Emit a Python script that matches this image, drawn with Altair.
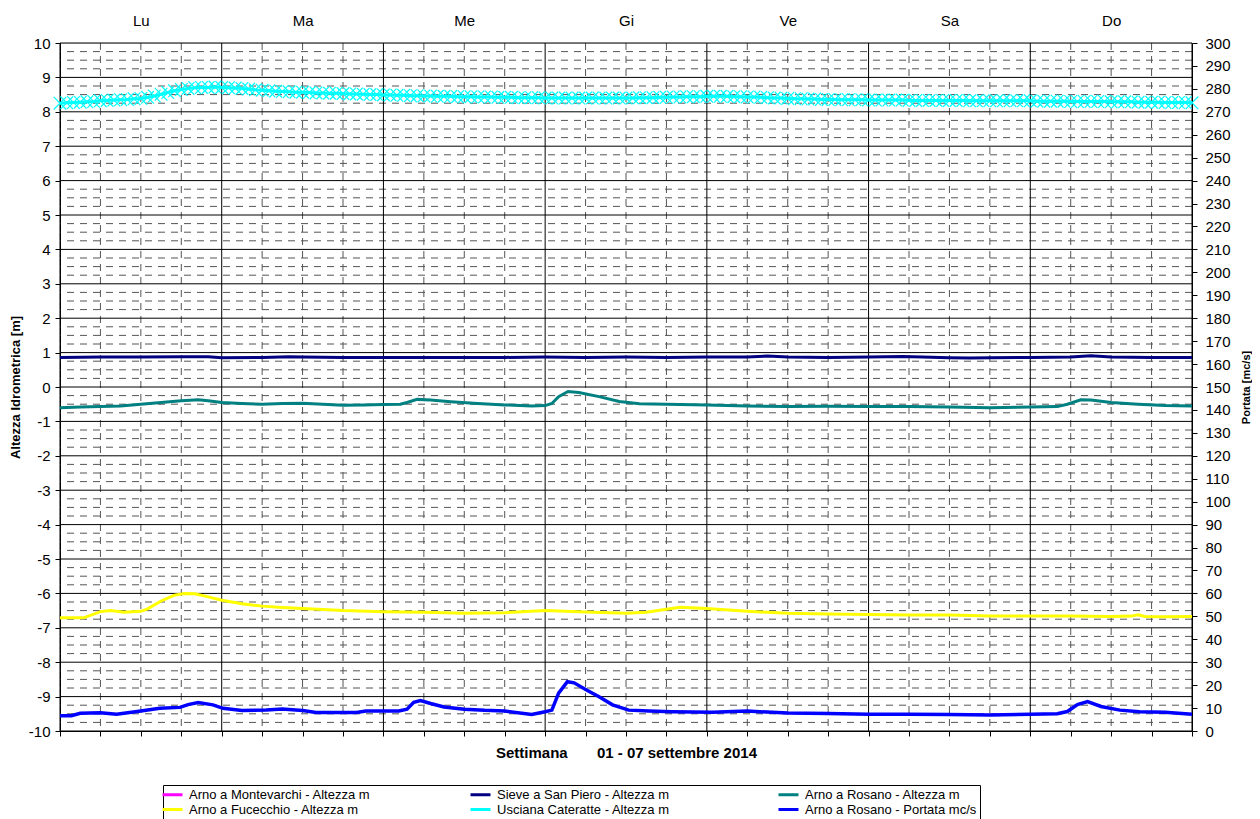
import altair as alt
import pandas as pd

# ---------------- data ----------------
DAYS = ["Lu", "Ma", "Me", "Gi", "Ve", "Sa", "Do"]

SERIES = [
    "Arno a Montevarchi - Altezza m",
    "Arno a Fucecchio - Altezza m",
    "Sieve a San Piero - Altezza m",
    "Usciana Cateratte - Altezza m",
    "Arno a Rosano - Altezza m",
    "Arno a Rosano - Portata mc/s",
]
COLORS = ["#FF00FF", "#FFFF00", "#000080", "#00FFFF", "#008080", "#0000FF"]

# Sieve a San Piero (hours from Mon 00:00, metres)
sieve_h = [0, 6, 12, 18, 22, 24, 30, 34, 36, 42, 48, 54, 60, 66, 72, 78, 84, 90, 96,
           102, 105, 108, 114, 120, 125, 128, 132, 135, 138, 144, 150, 153, 156, 162, 168]
sieve_v = [0.86, 0.87, 0.87, 0.88, 0.88, 0.85, 0.86, 0.88, 0.87, 0.86, 0.86, 0.86, 0.86,
           0.86, 0.87, 0.86, 0.87, 0.86, 0.87, 0.87, 0.90, 0.87, 0.86, 0.87, 0.89, 0.87,
           0.85, 0.84, 0.85, 0.86, 0.87, 0.91, 0.87, 0.86, 0.86]

# Arno a Rosano - altezza
rosano_h = [0, 3, 6, 9, 12, 15, 18, 20.5, 22, 24, 27, 30, 33, 36, 39, 42, 45, 48, 50.5,
            51.5, 53, 55, 58, 62, 66, 70, 72, 73, 74, 75.4, 77, 80, 83, 86, 90, 96, 102,
            108, 114, 120, 126, 132, 138, 144, 148, 149.5, 151.5, 153, 156, 160, 164, 168]
rosano_v = [-0.60, -0.58, -0.57, -0.55, -0.50, -0.45, -0.40, -0.37, -0.40, -0.45, -0.48,
            -0.50, -0.48, -0.47, -0.50, -0.53, -0.52, -0.51, -0.50, -0.45, -0.36, -0.38,
            -0.43, -0.48, -0.52, -0.55, -0.54, -0.48, -0.28, -0.13, -0.16, -0.28, -0.42,
            -0.49, -0.50, -0.52, -0.55, -0.57, -0.56, -0.57, -0.57, -0.58, -0.60, -0.58,
            -0.57, -0.50, -0.37, -0.38, -0.45, -0.50, -0.54, -0.55]

# Arno a Fucecchio
fuce_h = [0, 3.5, 6, 7.5, 9.5, 12, 13, 15, 17, 18.5, 20, 22, 24, 27, 30, 33, 36, 42, 48,
          54, 60, 66, 72, 78, 84, 87, 92, 96, 102, 108, 114, 120, 126, 132, 138, 144, 150,
          156, 159, 160, 161, 164, 168]
fuce_v = [-6.71, -6.71, -6.53, -6.50, -6.55, -6.52, -6.45, -6.22, -6.05, -6.00, -6.01,
          -6.10, -6.20, -6.30, -6.37, -6.41, -6.44, -6.50, -6.53, -6.55, -6.58, -6.56,
          -6.50, -6.54, -6.58, -6.55, -6.40, -6.44, -6.52, -6.58, -6.60, -6.61, -6.63,
          -6.63, -6.66, -6.66, -6.66, -6.67, -6.66, -6.62, -6.67, -6.68, -6.67]

# Usciana Cateratte (hourly readings)
usciana_v = [
    8.25, 8.26, 8.27, 8.28, 8.29, 8.30, 8.32, 8.33, 8.34, 8.35, 8.36, 8.38,
    8.39, 8.42, 8.46, 8.51, 8.56, 8.61, 8.65, 8.68, 8.70, 8.71, 8.71, 8.72,
    8.71, 8.70, 8.69, 8.68, 8.66, 8.64, 8.63, 8.61, 8.60, 8.59, 8.58, 8.57,
    8.57, 8.56, 8.55, 8.55, 8.54, 8.54, 8.53, 8.52, 8.52, 8.51, 8.50, 8.50,
    8.49, 8.49, 8.48, 8.48, 8.47, 8.47, 8.46, 8.46, 8.45, 8.45, 8.45, 8.44,
    8.44, 8.44, 8.43, 8.43, 8.43, 8.42, 8.42, 8.42, 8.41, 8.41, 8.41, 8.41,
    8.40, 8.40, 8.40, 8.40, 8.40, 8.40, 8.40, 8.40, 8.40, 8.40, 8.40, 8.40,
    8.40, 8.40, 8.41, 8.41, 8.41, 8.42, 8.42, 8.43, 8.43, 8.44, 8.44, 8.44,
    8.45, 8.45, 8.45, 8.45, 8.44, 8.44, 8.43, 8.43, 8.42, 8.41, 8.40, 8.40,
    8.39, 8.38, 8.38, 8.37, 8.37, 8.36, 8.36, 8.36, 8.35, 8.35, 8.35, 8.35,
    8.34, 8.34, 8.34, 8.34, 8.34, 8.34, 8.33, 8.33, 8.33, 8.33, 8.33, 8.33,
    8.33, 8.33, 8.33, 8.32, 8.32, 8.32, 8.32, 8.32, 8.32, 8.32, 8.32, 8.32,
    8.32, 8.31, 8.31, 8.31, 8.31, 8.31, 8.30, 8.30, 8.30, 8.30, 8.30, 8.30,
    8.29, 8.29, 8.29, 8.29, 8.28, 8.28, 8.28, 8.28, 8.27, 8.27, 8.27, 8.27,
    8.26,
]

# Arno a Rosano - portata (mc/s, right axis)
port_h = [0, 1.7, 3, 6, 8.4, 12, 14.8, 17.8, 19, 20.5, 22.7, 24.2, 27, 30.6, 33, 36, 38,
          44, 45.4, 50.3, 51.5, 52.5, 53.5, 55, 57, 60, 63, 66, 70, 72, 73, 74, 75.3, 76.3,
          78.2, 80, 82, 84.4, 87.4, 90.9, 96.8, 102, 108, 114, 120, 126, 132, 138, 144,
          148, 149.5, 151, 152.5, 154.5, 157.3, 160.2, 164, 168]
port_v = [6.7, 6.7, 7.7, 8.0, 7.3, 8.7, 9.9, 10.3, 11.5, 12.4, 11.4, 9.9, 8.9, 9.2, 9.6,
          8.9, 8.1, 8.1, 8.7, 8.7, 9.5, 12.5, 13.3, 12.0, 10.5, 9.5, 9.0, 8.7, 7.2, 8.4,
          9.1, 16.5, 21.5, 21.0, 17.8, 14.9, 11.4, 9.1, 8.7, 8.4, 8.2, 8.7, 7.8, 7.6, 7.3,
          7.3, 7.2, 7.0, 7.3, 7.5, 8.5, 11.5, 12.8, 10.7, 9.1, 8.4, 8.2, 7.3]

# axis / grid values
LEFT_TICKS = list(range(-10, 11))
LEFT_MINOR = [i + q for i in range(-10, 10) for q in (0.25, 0.5, 0.75)]
RIGHT_TICKS = list(range(0, 301, 10))
DAY_LINES = list(range(0, 169, 24))
SIX_HOURS = list(range(0, 169, 6))
SIX_MINOR = [h for h in SIX_HOURS if h % 24 != 0]
DAY_MIDS = [12 + 24 * i for i in range(7)]

# ---------------- frames ----------------
rows = []
for h, v in zip(sieve_h, sieve_v):
    rows.append({"h": h, "v": v, "serie": "Sieve a San Piero - Altezza m"})
for h, v in zip(rosano_h, rosano_v):
    rows.append({"h": h, "v": v, "serie": "Arno a Rosano - Altezza m"})
for h, v in zip(fuce_h, fuce_v):
    rows.append({"h": h, "v": v, "serie": "Arno a Fucecchio - Altezza m"})
for h, v in enumerate(usciana_v):
    rows.append({"h": h, "v": v, "serie": "Usciana Cateratte - Altezza m"})
left_df = pd.DataFrame(rows)
usc_df = pd.DataFrame({"h": list(range(len(usciana_v))), "v": usciana_v})
port_df = pd.DataFrame({"h": port_h, "p": port_v, "serie": "Arno a Rosano - Portata mc/s"})

FONT = "Liberation Sans, Arial, sans-serif"

xscale = alt.Scale(domain=[0, 168], nice=False, zero=False)
yscale = alt.Scale(domain=[-10, 10], nice=False, zero=False)

x_axis = alt.Axis(values=SIX_HOURS, labels=False, ticks=True, tickSize=5, tickColor="#000000",
                  domain=True, domainColor="#000000", grid=False,
                  title="Settimana\u00a0\u00a0\u00a0\u00a0\u00a0\u00a0 01 - 07 settembre 2014",
                  titleFont=FONT, titleFontSize=15, titleFontWeight="bold", titleColor="#000000",
                  titleX=566, titleY=21, titleBaseline="middle", titleAlign="center")
y_axis = alt.Axis(values=LEFT_TICKS, ticks=True, tickSize=5, tickColor="#000000", domain=True,
                  domainColor="#000000", grid=False, labelFont=FONT, labelFontSize=15,
                  labelColor="#000000", labelPadding=5, labelExpr="datum.value + ''",
                  title="Altezza Idrometrica [m]", titleFont=FONT, titleFontSize=13,
                  titleFontWeight="bold", titleColor="#000000", titleAngle=270,
                  titleX=-45, titleY=344, titleAlign="center", titleBaseline="middle")

X = alt.X("h:Q", scale=xscale, axis=x_axis)
Y = alt.Y("v:Q", scale=yscale, axis=y_axis)

color = alt.Color(
    "serie:N",
    scale=alt.Scale(domain=SERIES, range=COLORS),
    sort=SERIES,
    legend=alt.Legend(
        orient="none", legendX=103, legendY=742, columns=3, title=None,
        symbolType="M-2,0L2,0", symbolStrokeWidth=3, symbolSize=100,
        labelFont=FONT, labelFontSize=13, labelColor="#000000", labelOffset=10,
        columnPadding=93, rowPadding=1, gridAlign="all",
        strokeColor="#000000", fillColor="#FFFFFF", padding=3, labelLimit=400,
    ),
)

# grid rules
hmajor = alt.Chart(pd.DataFrame({"v": LEFT_TICKS})).mark_rule(
    color="#000000", strokeWidth=1).encode(y=Y)
hminor = alt.Chart(pd.DataFrame({"v": LEFT_MINOR})).mark_rule(
    color="#555555", strokeWidth=1, strokeDash=[7, 6]).encode(y=Y)
vmajor = alt.Chart(pd.DataFrame({"h": DAY_LINES})).mark_rule(
    color="#000000", strokeWidth=1).encode(x=X)
vminor = alt.Chart(pd.DataFrame({"h": SIX_MINOR})).mark_rule(
    color="#555555", strokeWidth=1, strokeDash=[7, 6]).encode(x=X)

lines = alt.Chart(left_df).mark_line(strokeWidth=3, interpolate="linear").encode(
    x=X, y=Y, color=color, detail="serie:N")

usc_pts = alt.Chart(usc_df).mark_point(
    shape="M-1,-1L1,1M-1,1L1,-1", size=160, filled=False, strokeWidth=1.2,
    color="#00FFFF", opacity=1).encode(x=X, y=Y)

left = alt.layer(hminor, vminor, hmajor, vmajor, lines, usc_pts)

top_axis = alt.Axis(orient="top", values=DAY_MIDS, ticks=False, domain=False, grid=False,
                    labelExpr="[" + ",".join("'%s'" % d for d in DAYS) + "][floor(datum.value/24)]",
                    labelFont=FONT, labelFontSize=15, labelColor="#000000", labelPadding=15,
                    labelFlush=False, title=None)
right_axis = alt.Axis(orient="right", values=RIGHT_TICKS, ticks=True, tickSize=5,
                      tickColor="#000000", domain=True, domainColor="#000000", grid=False,
                      labelFont=FONT, labelFontSize=15, labelColor="#000000", labelPadding=8,
                      title="Portata [mc/s]", titleFont=FONT, titleFontSize=11,
                      titleFontWeight="bold", titleColor="#000000", titleAngle=270,
                      titleX=54, titleY=344, titleAlign="center", titleBaseline="middle")

portata = alt.Chart(port_df).mark_line(strokeWidth=3.5).encode(
    x=alt.X("h:Q", scale=xscale, axis=top_axis),
    y=alt.Y("p:Q", scale=alt.Scale(domain=[0, 300], nice=False, zero=True), axis=right_axis),
    color=color,
)

chart = alt.layer(left, portata).resolve_scale(x="independent", y="independent").properties(
    width=1132, height=688,
    autosize=alt.AutoSizeParams(type="none"),
    padding={"left": 52, "top": 35, "right": 60, "bottom": 88},
).configure_view(stroke=None).configure(background="#FFFFFF")

chart.save("out.html", embed_options={"renderer": "svg", "actions": False})
